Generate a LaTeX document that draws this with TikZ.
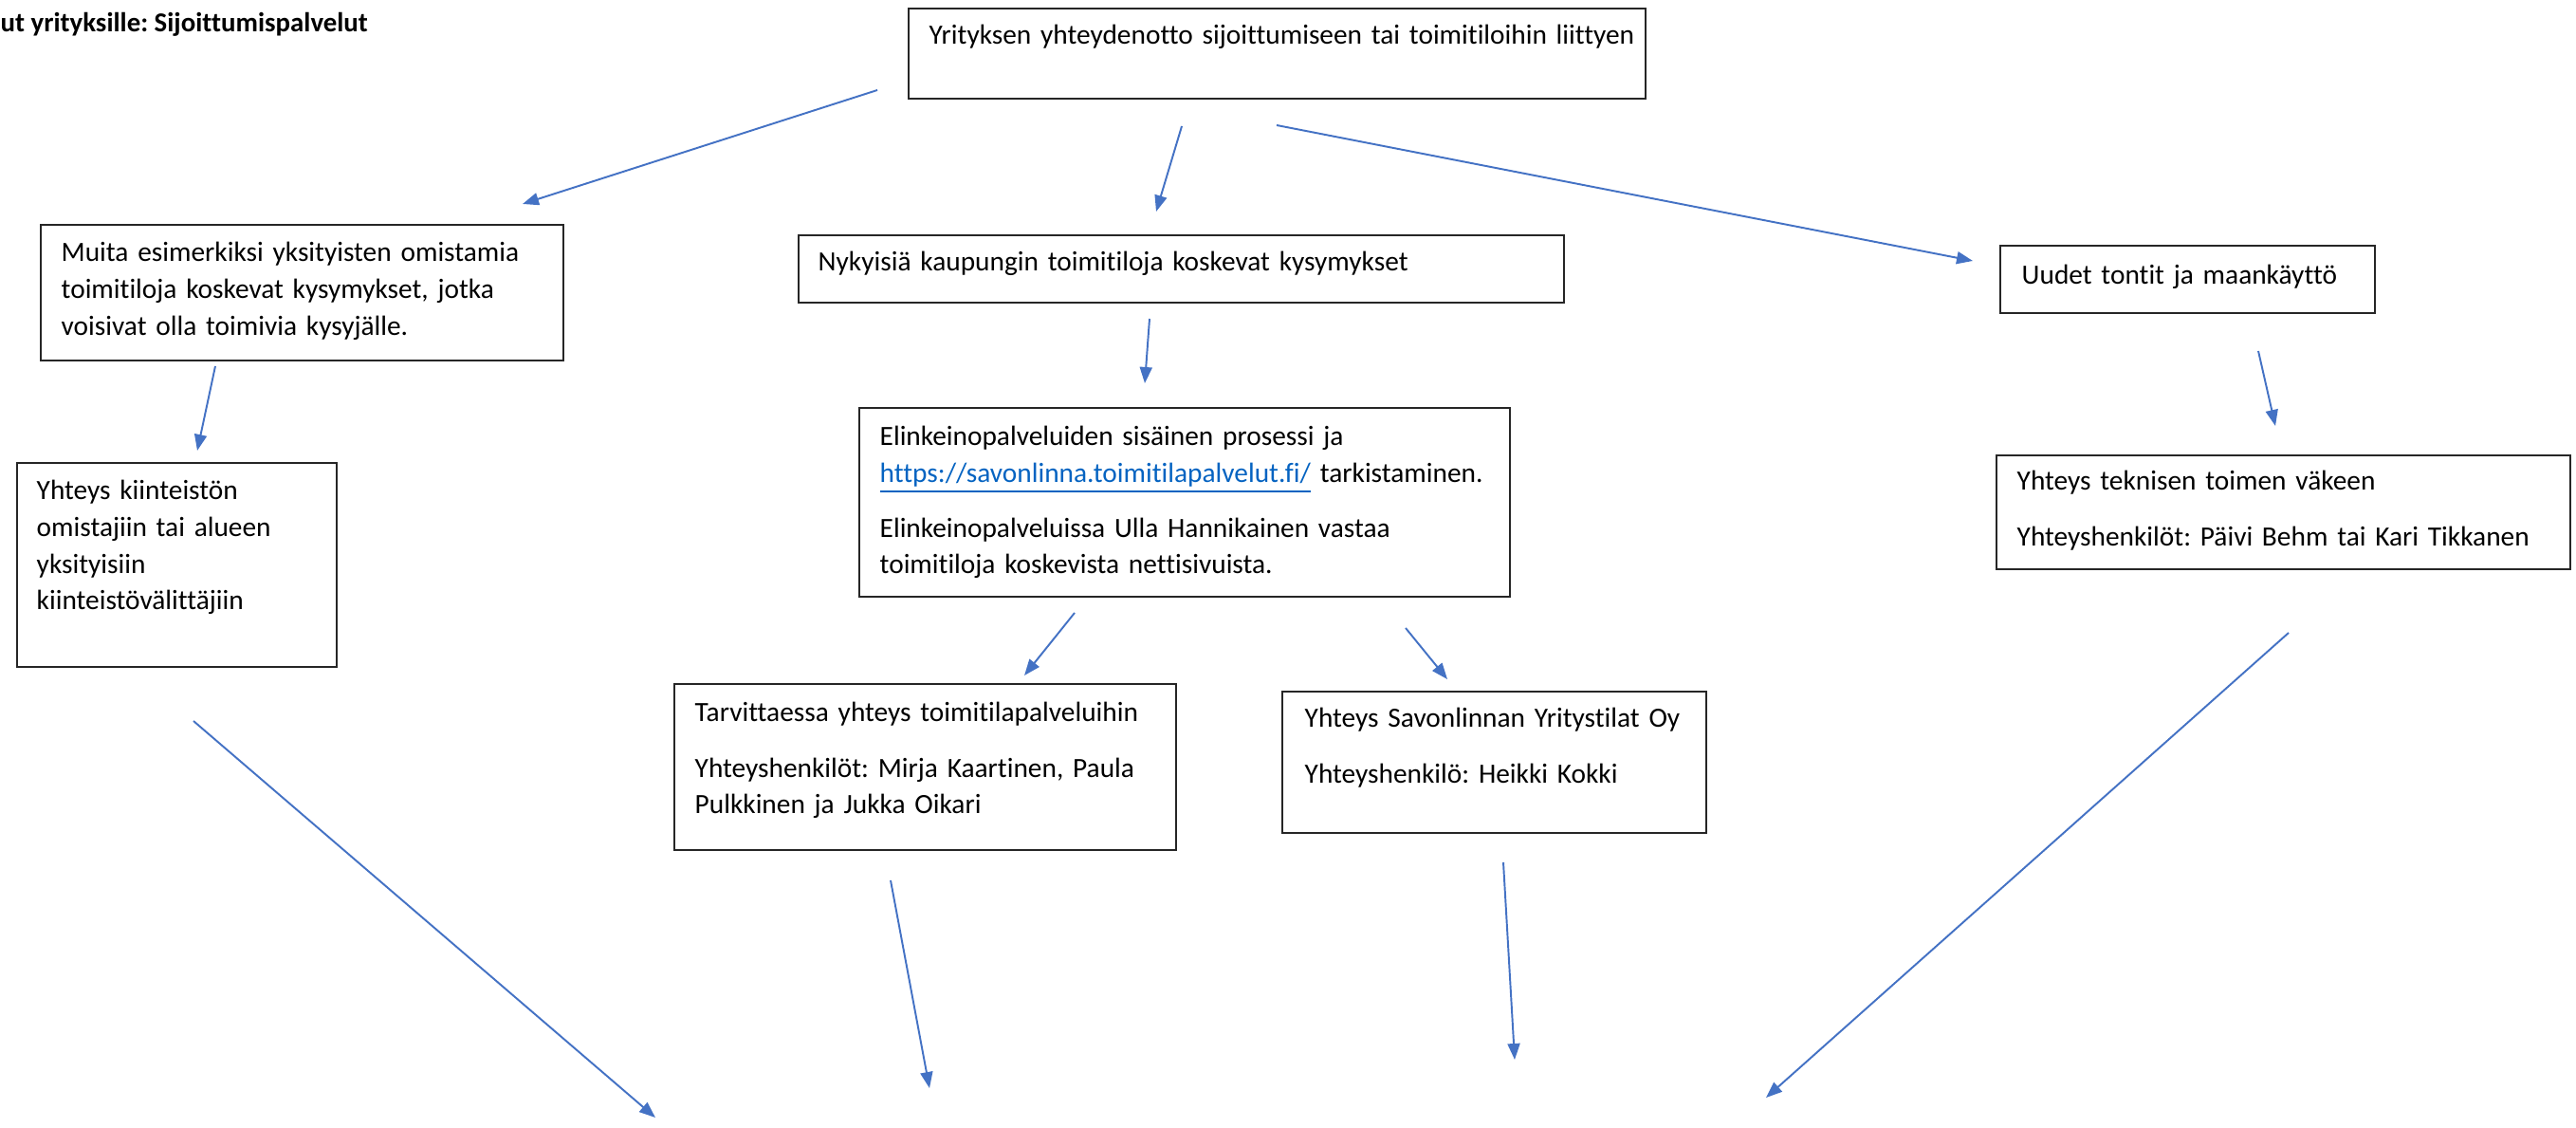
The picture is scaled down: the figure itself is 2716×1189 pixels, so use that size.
\documentclass[tikz,border=0pt]{standalone}
\usepackage{fontspec}
\setmainfont{Carlito}[Ligatures=NoCommon]
\usetikzlibrary{arrows.meta,fit}
\definecolor{arrowblue}{HTML}{4472C4}
\definecolor{linkblue}{HTML}{0563C1}
\frenchspacing
\begin{document}
\begin{tikzpicture}[x=0.01cm,y=-0.01cm,
  box/.style={draw=black!85, line width=0.6pt, inner sep=0pt},
  txt/.style={inner sep=0pt, anchor=base west, align=left, text width=8cm,
    font=\fontsize{8.35pt}{10.95pt}\selectfont},
  arr/.style={draw=arrowblue, line width=0.55pt,
    -{Triangle[length=0.17cm,width=0.13cm]}}]
\useasboundingbox (0,0) rectangle (2716,1189);

% title (cut off at the left edge)
\node[inner sep=0pt, anchor=base west, font=\fontsize{8.2pt}{10pt}\selectfont\bfseries] (title) at (0,34) {ut yrityksille: Sijoittumispalvelut};

% boxes
\node[box, fit={(958,9) (1735,104)}] (A) {};
\node[box, fit={(43,237) (594,380)}] (B) {};
\node[box, fit={(842,248) (1649,319)}] (C) {};
\node[box, fit={(2109,259) (2504,330)}] (D) {};
\node[box, fit={(18,488) (355,703)}] (E) {};
\node[box, fit={(906,430) (1592,629)}] (F) {};
\node[box, fit={(2105,480) (2710,600)}] (G) {};
\node[box, fit={(711,721) (1240,896)}] (H) {};
\node[box, fit={(1352,729) (1799,878)}] (I) {};

% texts
\node[txt] (At) at (979,47) {Yrityksen yhteydenotto sijoittumiseen tai toimitiloihin liittyen};
\node[txt] (Bt) at (64,276) {Muita esimerkiksi yksityisten omistamia\\toimitiloja koskevat kysymykset, jotka\\voisivat olla toimivia kysyjälle.};
\node[txt] (Ct) at (862,286) {Nykyisiä kaupungin toimitiloja koskevat kysymykset};
\node[txt] (Dt) at (2131,300) {Uudet tontit ja maankäyttö};
\node[txt] (Et) at (38,527) {Yhteys kiinteistön\\omistajiin tai alueen\\yksityisiin\\kiinteistövälittäjiin};
\node[txt] (Ft) at (927,470) {Elinkeinopalveluiden sisäinen prosessi ja\\\textcolor{linkblue}{\underline{https://savonlinna.toimitilapalvelut.fi/}} tarkistaminen.\\[5.5pt]Elinkeinopalveluissa Ulla Hannikainen vastaa\\toimitiloja koskevista nettisivuista.};
\node[txt] (Gt) at (2126,517) {Yhteys teknisen toimen väkeen\\[5.8pt]Yhteyshenkilöt: Päivi Behm tai Kari Tikkanen};
\node[txt] (Ht) at (732,761) {Tarvittaessa yhteys toimitilapalveluihin\\[5.6pt]Yhteyshenkilöt: Mirja Kaartinen, Paula\\Pulkkinen ja Jukka Oikari};
\node[txt] (It) at (1375,767) {Yhteys Savonlinnan Yritystilat Oy\\[5.6pt]Yhteyshenkilö: Heikki Kokki};

% arrow end points
\coordinate (a1s) at (925,95);   \coordinate (a1e) at (551,215);
\coordinate (a2s) at (1246,133); \coordinate (a2e) at (1219,223);
\coordinate (a3s) at (1346,132); \coordinate (a3e) at (2080,275);
\coordinate (a4s) at (227,386);  \coordinate (a4e) at (208,475);
\coordinate (a5s) at (1212,336); \coordinate (a5e) at (1207,404);
\coordinate (a6s) at (2381,370); \coordinate (a6e) at (2399,449);
\coordinate (a7s) at (1133,646); \coordinate (a7e) at (1080,712);
\coordinate (a8s) at (1482,662); \coordinate (a8e) at (1526,716);
\coordinate (a9s) at (204,760);  \coordinate (a9e) at (691,1178);
\coordinate (a10s) at (939,928); \coordinate (a10e) at (980,1147);
\coordinate (a11s) at (1585,909); \coordinate (a11e) at (1597,1117);
\coordinate (a12s) at (2413,667); \coordinate (a12e) at (1862,1157);

\foreach \i in {1,...,12} \draw[arr] (a\i s) -- (a\i e);
\end{tikzpicture}
\end{document}
